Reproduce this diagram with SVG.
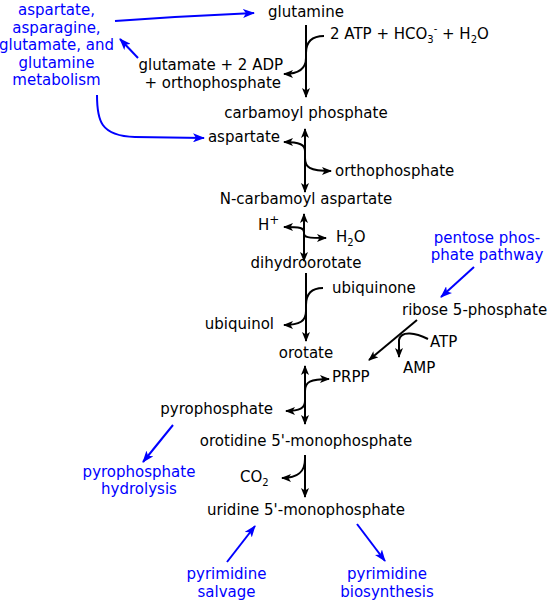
<svg xmlns="http://www.w3.org/2000/svg" width="549" height="604" viewBox="0 0 549 604">
<style>
text{font-family:"DejaVu Sans","Liberation Sans",sans-serif;font-size:15px;fill:#000}
text.b{fill:#0000ff}
.s{font-size:10px}
.p{font-size:12px}
.k{fill:none;stroke:#000;stroke-width:2}
.u{fill:none;stroke:#0000ff;stroke-width:2}
</style>
<defs>
<marker id="ah" viewBox="0 0 10 8" refX="9" refY="4" markerWidth="10" markerHeight="8" markerUnits="userSpaceOnUse" orient="auto-start-reverse"><path d="M0,0 L10,4 L0,8 L2.5,4 z" fill="#000"/></marker>
<marker id="bh" viewBox="0 0 12 9" refX="11" refY="4.5" markerWidth="12" markerHeight="9" markerUnits="userSpaceOnUse" orient="auto"><path d="M0,0 L12,4.5 L0,9 L3,4.5 z" fill="#0000ff"/></marker>
</defs>
<rect width="549" height="604" fill="#fff"/>

<g id="connectors">
<!-- glutamine -> carbamoyl phosphate -->
<path class="k" d="M306,25 L306,97" marker-end="url(#ah)"/>
<path class="k" d="M324,36 C312,36 306,42 306,53"/>
<path class="k" d="M306,58 C306,69 299,74 284,74" marker-end="url(#ah)"/>
<!-- carbamoyl phosphate -> N-carbamoyl aspartate -->
<path class="k" d="M305,129 L305,192" marker-start="url(#ah)" marker-end="url(#ah)"/>
<path class="k" d="M305,151 C305,145 300,142 284,142" marker-end="url(#ah)"/>
<path class="k" d="M305,158 C305,167 309,171 331,171" marker-end="url(#ah)"/>
<!-- N-carbamoyl aspartate -> dihydroorotate -->
<path class="k" d="M304,214 L304,261" marker-start="url(#ah)" marker-end="url(#ah)"/>
<path class="k" d="M304,232 C304,228 301,227 284,227" marker-end="url(#ah)"/>
<path class="k" d="M304,234 C304,237 307,238 326,238" marker-end="url(#ah)"/>
<!-- dihydroorotate -> orotate -->
<path class="k" d="M306,273 L306,341" marker-end="url(#ah)"/>
<path class="k" d="M323,288 C312,288 306,293 306,305"/>
<path class="k" d="M306,311 C306,321 300,325 284,325" marker-end="url(#ah)"/>
<!-- orotate -> orotidine 5'-monophosphate -->
<path class="k" d="M305,366 L305,424" marker-start="url(#ah)" marker-end="url(#ah)"/>
<path class="k" d="M305,391 C305,382 310,379 329,379" marker-end="url(#ah)"/>
<path class="k" d="M305,401 C305,408 300,411 286,411" marker-end="url(#ah)"/>
<!-- orotidine -> uridine -->
<path class="k" d="M305,455 L305,497" marker-end="url(#ah)"/>
<path class="k" d="M305,459 C305,471 299,478 282,478" marker-end="url(#ah)"/>
<!-- ribose 5-phosphate -> PRPP -->
<path class="k" d="M417,320 L369,360" marker-end="url(#ah)"/>
<path class="k" d="M428,339 C416,333 401,330 399,340 L399,357" marker-end="url(#ah)"/>
<!-- blue -->
<path class="u" d="M115,21 Q185,16 254,13" marker-end="url(#bh)"/>
<path class="u" d="M138,58 L120,39" marker-end="url(#bh)"/>
<path class="u" d="M97,95 C97,120 100,136 135,137 L204,138" marker-end="url(#bh)"/>
<path class="u" d="M474,267 L441,297" marker-end="url(#bh)"/>
<path class="u" d="M173,425 L143,462" marker-end="url(#bh)"/>
<path class="u" d="M227,562 L255,526" marker-end="url(#bh)"/>
<path class="u" d="M357,524 L385,561" marker-end="url(#bh)"/>
</g>

<g id="glutamine"><text x="306" y="17" text-anchor="middle">glutamine</text></g>
<g id="atp-hco3-h2o"><text x="330" y="39">2 ATP + HCO<tspan class="s" dy="4">3</tspan><tspan class="s" dy="-11">-</tspan><tspan dy="7"> + H</tspan><tspan class="s" dy="4">2</tspan><tspan dy="-4">O</tspan></text></g>
<g id="glutamate-adp"><text x="283" y="70" text-anchor="end">glutamate + 2 ADP</text><text x="281" y="88" text-anchor="end">+ orthophosphate</text></g>
<g id="carbamoyl-phosphate"><text x="306" y="118" text-anchor="middle">carbamoyl phosphate</text></g>
<g id="aspartate"><text x="280" y="142" text-anchor="end">aspartate</text></g>
<g id="orthophosphate"><text x="335" y="176">orthophosphate</text></g>
<g id="n-carbamoyl-aspartate"><text x="306" y="204" text-anchor="middle">N-carbamoyl aspartate</text></g>
<g id="h-plus"><text x="258" y="230">H<tspan class="p" dy="-6">+</tspan></text></g>
<g id="h2o"><text x="336" y="242">H<tspan class="s" dy="4">2</tspan><tspan dy="-4">O</tspan></text></g>
<g id="dihydroorotate"><text x="306" y="268" text-anchor="middle">dihydroorotate</text></g>
<g id="ubiquinone"><text x="332" y="293">ubiquinone</text></g>
<g id="ubiquinol"><text x="274" y="329" text-anchor="end">ubiquinol</text></g>
<g id="orotate"><text x="306" y="358" text-anchor="middle">orotate</text></g>
<g id="prpp"><text x="332" y="382">PRPP</text></g>
<g id="ribose-5-phosphate"><text x="402" y="315">ribose 5-phosphate</text></g>
<g id="atp"><text x="430" y="347">ATP</text></g>
<g id="amp"><text x="403" y="373">AMP</text></g>
<g id="pyrophosphate"><text x="273" y="414" text-anchor="end">pyrophosphate</text></g>
<g id="omp"><text x="306" y="446" text-anchor="middle">orotidine 5'-monophosphate</text></g>
<g id="co2"><text x="240" y="482">CO<tspan class="s" dy="4">2</tspan></text></g>
<g id="ump"><text x="306" y="515" text-anchor="middle">uridine 5'-monophosphate</text></g>

<g id="metabolism"><text class="b" x="56.5" y="15" text-anchor="middle">aspartate,</text><text class="b" x="56.5" y="32.5" text-anchor="middle">asparagine,</text><text class="b" x="56.5" y="50" text-anchor="middle">glutamate, and</text><text class="b" x="56.5" y="67.5" text-anchor="middle">glutamine</text><text class="b" x="56.5" y="85" text-anchor="middle">metabolism</text></g>
<g id="pentose-phosphate-pathway"><text class="b" x="487" y="243" text-anchor="middle">pentose phos-</text><text class="b" x="487" y="260" text-anchor="middle">phate pathway</text></g>
<g id="pyrophosphate-hydrolysis"><text class="b" x="139" y="477" text-anchor="middle">pyrophosphate</text><text class="b" x="139" y="494" text-anchor="middle">hydrolysis</text></g>
<g id="pyrimidine-salvage"><text class="b" x="226.5" y="579" text-anchor="middle">pyrimidine</text><text class="b" x="226.5" y="597" text-anchor="middle">salvage</text></g>
<g id="pyrimidine-biosynthesis"><text class="b" x="387" y="579" text-anchor="middle">pyrimidine</text><text class="b" x="387" y="597" text-anchor="middle">biosynthesis</text></g>
</svg>
